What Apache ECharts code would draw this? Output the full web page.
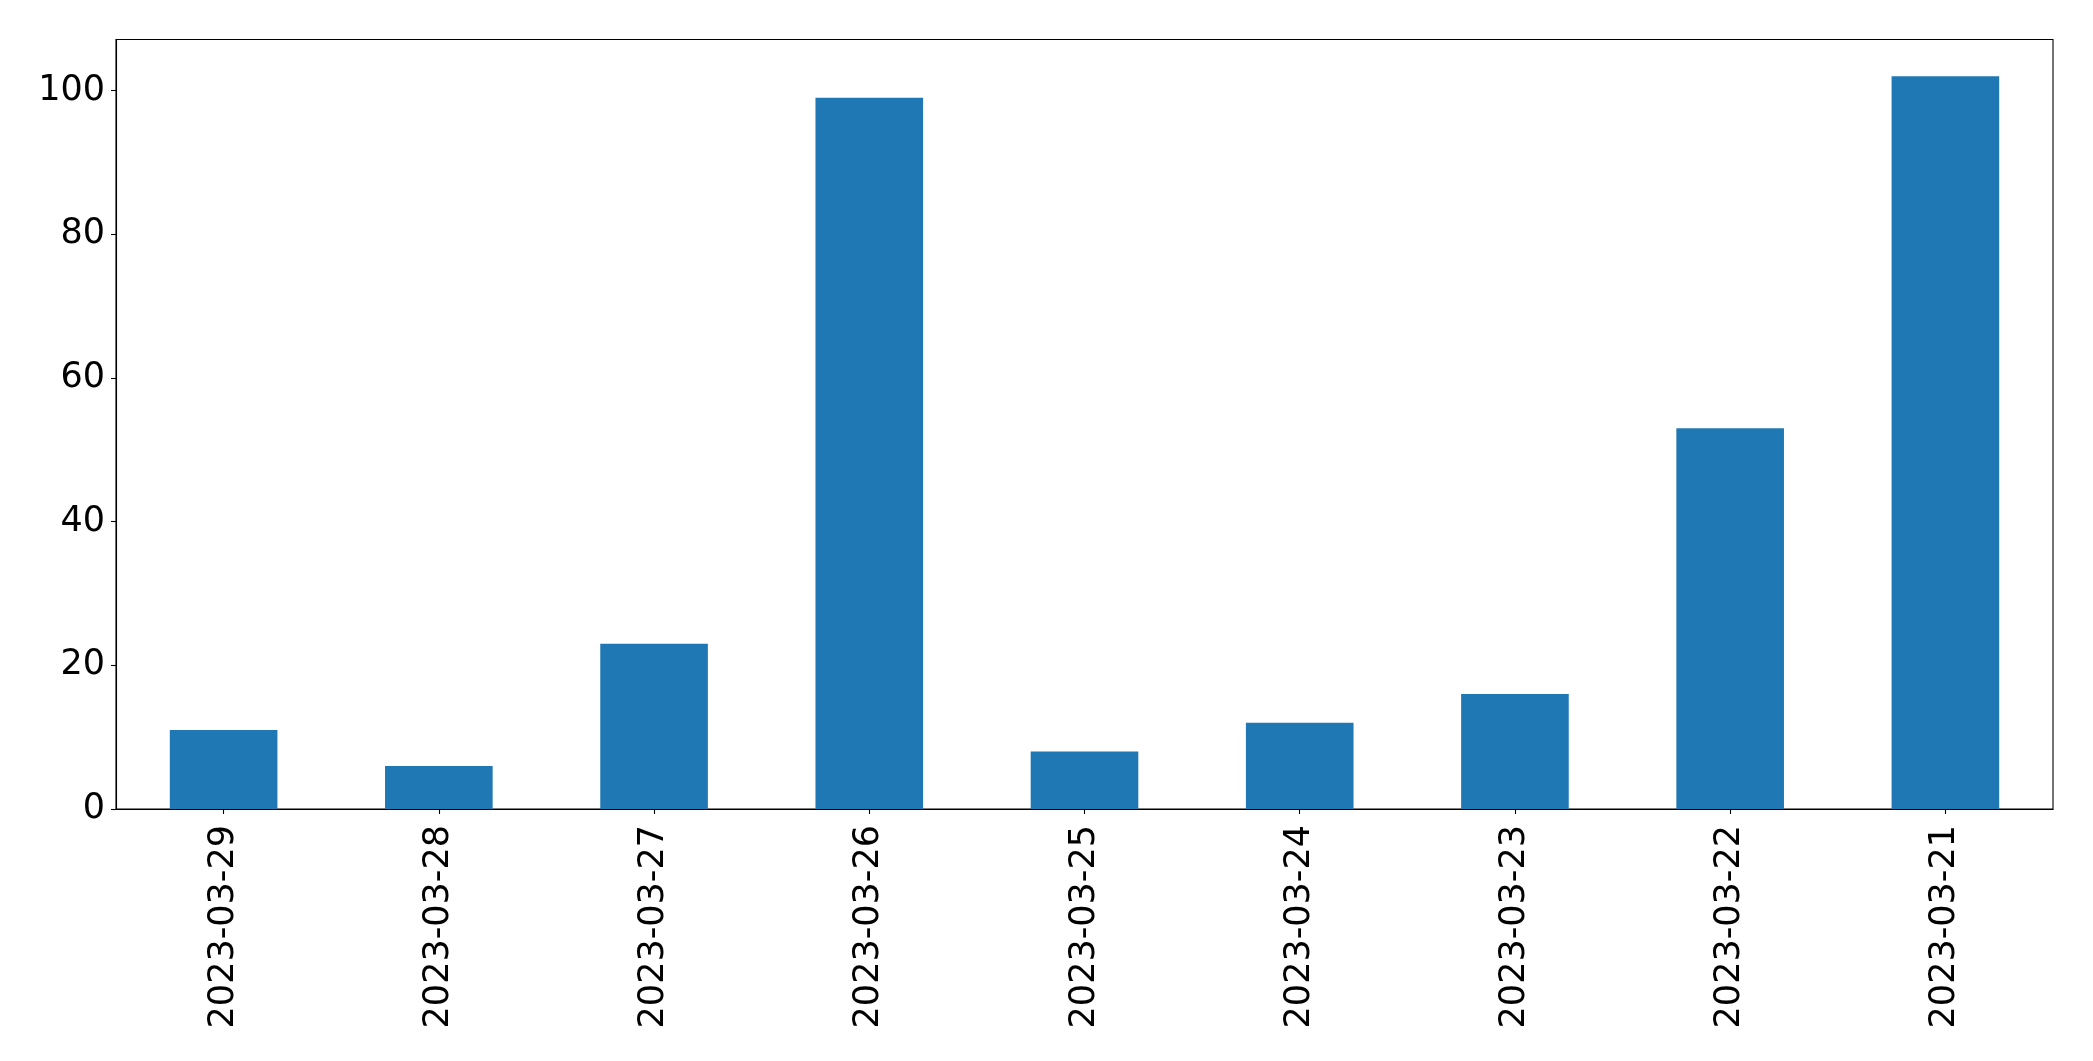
<!DOCTYPE html>
<html>
<head>
<meta charset="utf-8">
<script src="https://cdn.jsdelivr.net/npm/echarts@6/dist/echarts.min.js"></script>
<style>html,body{margin:0;padding:0;background:#fff;}#c{width:2093px;height:1061px;}</style>
</head>
<body>
<div id="c"></div>
<script>
const categories = ['2023-03-29','2023-03-28','2023-03-27','2023-03-26','2023-03-25','2023-03-24','2023-03-23','2023-03-22','2023-03-21'];
const values = [11, 6, 23, 99, 8, 12, 16, 53, 102];
const yTicks = [0, 20, 40, 60, 80, 100];

const chart = echarts.init(document.getElementById('c'), null, {renderer: 'canvas'});
const font = 'DejaVu Sans';
chart.setOption({
  animation: false,
  backgroundColor: '#ffffff',
  grid: {left: 116, top: 39.5, right: 40, bottom: 252, show: true, borderColor: '#000', borderWidth: 1.1, backgroundColor: 'transparent'},
  xAxis: {
    type: 'category',
    data: categories,
    boundaryGap: true,
    axisLine: {show: true, lineStyle: {color: '#000', width: 1.1}},
    axisTick: {show: true, alignWithLabel: true, length: 5, lineStyle: {color: '#000', width: 1.1}},
    axisLabel: {rotate: 90, margin: 16, fontSize: 35, fontFamily: font, color: '#000', interval: 0},
    splitLine: {show: false}
  },
  yAxis: {
    type: 'value',
    min: 0,
    max: 107.1,
    interval: 20,
    axisLine: {show: true, lineStyle: {color: '#000', width: 1.1}},
    axisTick: {show: true, length: 5, lineStyle: {color: '#000', width: 1.1}},
    axisLabel: {margin: 11, fontSize: 35, fontFamily: font, color: '#000', showMaxLabel: false,
      formatter: v => yTicks.includes(v) ? String(v) : ''},
    splitLine: {show: false}
  },
  series: [{
    type: 'bar',
    data: values,
    barWidth: '50%',
    itemStyle: {color: '#1f77b4'}
  }]
});
</script>
</body>
</html>
